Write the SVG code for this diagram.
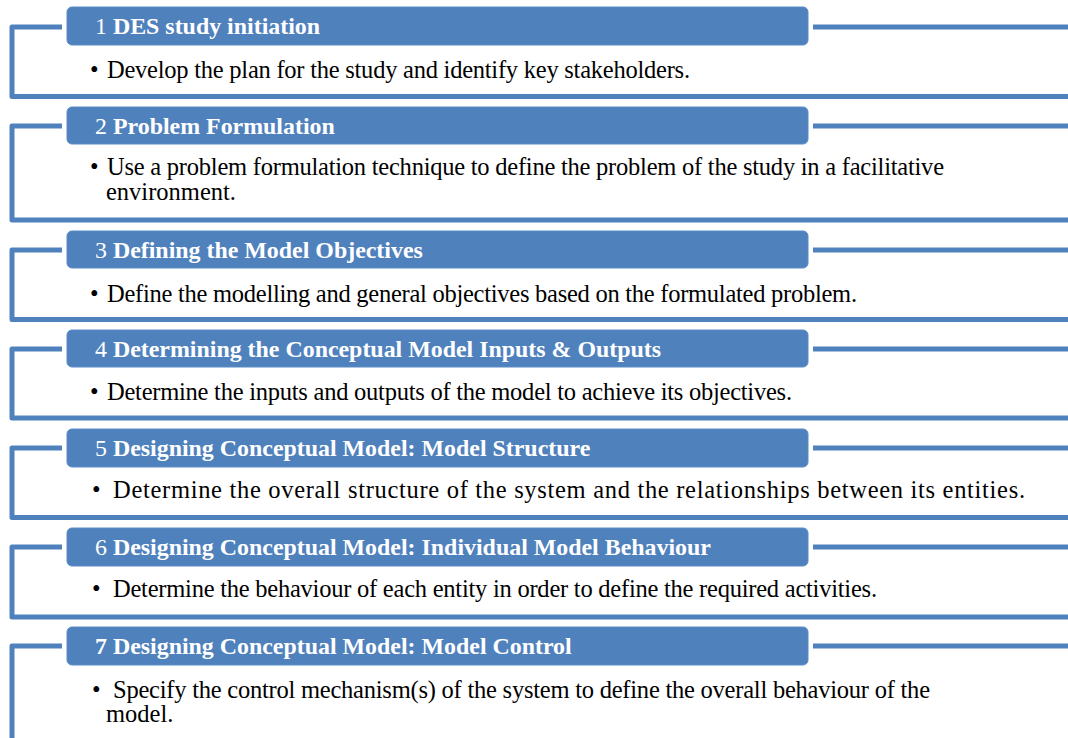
<svg xmlns="http://www.w3.org/2000/svg" width="1068" height="738" viewBox="0 0 1068 738">
<style>
.ln{fill:none;stroke:#4F81BD;stroke-width:5;stroke-linejoin:round}
.hd{fill:#4F81BD;stroke:#5B8CC6;stroke-width:1}
.ht{font-family:"Liberation Serif","Times New Roman",serif;font-size:23.9px;fill:#fff;font-weight:bold}
.ht .n{font-weight:normal}
.bt{font-family:"Liberation Serif","Times New Roman",serif;font-size:24.5px;fill:#000}
</style>
<rect width="1068" height="738" fill="#fff"/>
<g id="connectors">
<path class="ln" d="M62 27H12V96.5H1068"/><path class="ln" d="M813 27H1068"/>
<path class="ln" d="M62 126H12V220H1068"/><path class="ln" d="M813 126H1068"/>
<path class="ln" d="M62 250H12V319.5H1068"/><path class="ln" d="M813 250H1068"/>
<path class="ln" d="M62 349H12V418H1068"/><path class="ln" d="M813 349H1068"/>
<path class="ln" d="M62 448H12V517.5H1068"/><path class="ln" d="M813 448H1068"/>
<path class="ln" d="M62 547H12V617H1068"/><path class="ln" d="M813 547H1068"/>
<path class="ln" d="M62 646H12V745"/><path class="ln" d="M813 646H1068"/>
</g>
<g id="n1">
<rect class="hd" x="67" y="7" width="741" height="38" rx="5"/>
<text class="ht" x="95" y="34"><tspan class="n">1 </tspan>DES study initiation</text>
<text class="bt" x="90" y="78">•</text>
<text class="bt" x="107" y="78" textLength="583">Develop the plan for the study and identify key stakeholders.</text>
</g>
<g id="n2">
<rect class="hd" x="67" y="107" width="741" height="37" rx="5"/>
<text class="ht" x="95" y="134"><tspan class="n">2 </tspan>Problem Formulation</text>
<text class="bt" x="90" y="175">•</text>
<text class="bt" x="107" y="175" textLength="837">Use a problem formulation technique to define the problem of the study in a facilitative</text>
<text class="bt" x="106" y="200">environment.</text>
</g>
<g id="n3">
<rect class="hd" x="67" y="231" width="741" height="37" rx="5"/>
<text class="ht" x="95" y="258"><tspan class="n">3 </tspan>Defining the Model Objectives</text>
<text class="bt" x="90" y="302">•</text>
<text class="bt" x="107" y="302" textLength="750">Define the modelling and general objectives based on the formulated problem.</text>
</g>
<g id="n4">
<rect class="hd" x="67" y="330" width="741" height="37" rx="5"/>
<text class="ht" x="95" y="357"><tspan class="n">4 </tspan>Determining the Conceptual Model Inputs &amp; Outputs</text>
<text class="bt" x="90" y="400">•</text>
<text class="bt" x="107" y="400" textLength="685">Determine the inputs and outputs of the model to achieve its objectives.</text>
</g>
<g id="n5">
<rect class="hd" x="67" y="429" width="741" height="38" rx="5"/>
<text class="ht" x="95" y="456"><tspan class="n">5 </tspan>Designing Conceptual Model: Model Structure</text>
<text class="bt" x="92" y="498">•</text>
<text class="bt" x="113" y="498" textLength="912">Determine the overall structure of the system and the relationships between its entities.</text>
</g>
<g id="n6">
<rect class="hd" x="67" y="528" width="741" height="38" rx="5"/>
<text class="ht" x="95" y="555"><tspan class="n">6 </tspan>Designing Conceptual Model: Individual Model Behaviour</text>
<text class="bt" x="92" y="597">•</text>
<text class="bt" x="113" y="597" textLength="764">Determine the behaviour of each entity in order to define the required activities.</text>
</g>
<g id="n7">
<rect class="hd" x="67" y="627" width="741" height="38" rx="5"/>
<text class="ht" x="95" y="654">7 Designing Conceptual Model: Model Control</text>
<text class="bt" x="92" y="698">•</text>
<text class="bt" x="113" y="698" textLength="817">Specify the control mechanism(s) of the system to define the overall behaviour of the</text>
<text class="bt" x="106" y="722">model.</text>
</g>
</svg>
